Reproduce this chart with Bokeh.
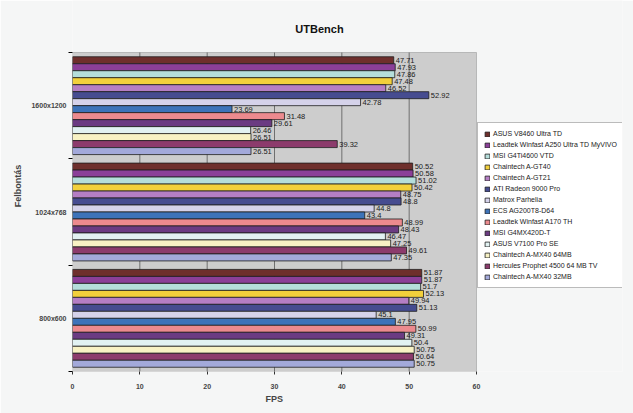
from bokeh.plotting import figure
from bokeh.models import Legend, LegendItem, FixedTicker, Range1d, BoxAnnotation, Title, Label
from bokeh.core.properties import value
from bokeh.embed import file_html
from bokeh.resources import INLINE

resolutions = ["1600x1200", "1024x768", "800x600"]
cards = [
    "ASUS V8460 Ultra TD",
    "Leadtek Winfast A250 Ultra TD MyVIVO",
    "MSI G4Ti4600 VTD",
    "Chaintech A-GT40",
    "Chaintech A-GT21",
    "ATI Radeon 9000 Pro",
    "Matrox Parhelia",
    "ECS AG200T8-D64",
    "Leadtek Winfast A170 TH",
    "MSI G4MX420D-T",
    "ASUS V7100 Pro SE",
    "Chaintech A-MX40 64MB",
    "Hercules Prophet 4500 64 MB TV",
    "Chaintech A-MX40 32MB",
]
colors = [
    "#6e2f2c", "#8b3f98", "#b5dedb", "#f2d03c", "#b57ec4", "#464c90", "#d5d2ea",
    "#3d73b9", "#ec8a8e", "#6b3b82", "#e2f2f2", "#f8f2c4", "#8c3b6c", "#a3a9da",
]
fps_1600x1200 = [47.71, 47.93, 47.86, 47.48, 46.52, 52.92, 42.78,
                 23.69, 31.48, 29.61, 26.46, 26.51, 39.32, 26.51]
fps_1024x768 = [50.52, 50.58, 51.02, 50.42, 48.75, 48.8, 44.8,
                43.4, 48.99, 48.43, 46.47, 47.25, 49.61, 47.35]
fps_800x600 = [51.87, 51.87, 51.7, 52.13, 49.94, 51.13, 45.1,
               47.95, 50.99, 49.31, 50.4, 50.75, 50.64, 50.75]
fps_by_res = [fps_1600x1200, fps_1024x768, fps_800x600]
x_ticks = [0, 10, 20, 30, 40, 50, 60]
title_text = "UTBench"

FONT = "Liberation Sans"
n_cat = len(resolutions)
n_ser = len(cards)
group_w = 0.92
bar_h = group_w / n_ser
centers = [n_cat - i - 0.5 for i in range(n_cat)]

# layout in pixels
W, H = 633, 413
LEFT, BOTTOM, RIGHT = 72, 42, 11
AREA_W, AREA_TOP = 404, 52          # chart area width, chart area top (from figure top)
frame_w = W - LEFT - RIGHT
frame_h = H - BOTTOM
area_h = frame_h - AREA_TOP
x_max = x_ticks[-1]
x_end = x_max * frame_w / AREA_W
y_end = n_cat * frame_h / area_h
px_x = x_max / AREA_W
px_y = n_cat / area_h

p = figure(width=W, height=H, output_backend="svg", toolbar_location=None,
           x_range=Range1d(0, x_end), y_range=Range1d(0, y_end),
           min_border_left=LEFT, min_border_top=0, min_border_bottom=BOTTOM,
           min_border_right=RIGHT)
p.background_fill_color = "#f5f6f6"
p.border_fill_color = "#f5f6f6"
p.outline_line_color = None

area = BoxAnnotation(left=0, right=x_max, bottom=0, top=n_cat, level="image",
                     fill_color="#cdcdcd", fill_alpha=1.0,
                     line_color="#555555", line_width=1)
p.add_layout(area)

# vertical grid lines limited to the chart area
grid_x = x_ticks[1:-1]
p.segment(x0=grid_x, x1=grid_x, y0=[0] * len(grid_x), y1=[n_cat] * len(grid_x),
          line_color="#6f6f6f", line_width=1)

title = Label(x=(319 - LEFT) * px_x, y=n_cat + (AREA_TOP - 28) * px_y, text=title_text,
              text_font=FONT, text_font_size="11px", text_font_style="bold",
              text_align="center", text_baseline="middle", text_color="#111111")
p.add_layout(title)

items = []
for j, name in enumerate(cards):
    vals = [fps_by_res[i][j] for i in range(n_cat)]
    ys = [c + group_w / 2 - (j + 0.5) * bar_h for c in centers]
    r = p.hbar(y=ys, right=vals, left=0, height=bar_h, fill_color=colors[j],
               line_color="#1e1e1e", line_width=0.8)
    p.text(x=vals, y=ys, text=[f"{v:g}" for v in vals], x_offset=2,
           text_font=value(FONT), text_font_size="7.5px", text_baseline="middle",
           text_color="#1a1a1a")
    items.append(LegendItem(label=name, renderers=[r]))

legend = Legend(items=items, location=(AREA_W + 1, frame_h - 288), margin=0, padding=6,
                label_text_font=FONT, label_text_font_size="7px",
                label_text_color="#1a1a1a", label_height=9, label_standoff=3,
                glyph_width=6, glyph_height=6, spacing=2,
                border_line_color="#777777", background_fill_color="#ffffff",
                background_fill_alpha=1.0)
p.add_layout(legend, "center")

p.ygrid.grid_line_color = None
p.xgrid.grid_line_color = None

xa = p.xaxis[0]
xa.ticker = FixedTicker(ticks=x_ticks)
xa.axis_line_color = None
xa.major_label_text_font = FONT
xa.major_label_text_font_size = "7px"
xa.major_label_text_font_style = "bold"
xa.major_label_standoff = 9
xa.major_tick_out = 3
xa.major_tick_in = 0
xa.minor_tick_out = 0
xa.major_tick_line_color = "#333333"

fps_title = Title(text="FPS", align="left", offset=AREA_W / 2 - 9, standoff=1,
                  text_font=FONT, text_font_size="9px", text_font_style="bold")
p.add_layout(fps_title, "below")

ya = p.yaxis[0]
ya.ticker = FixedTicker(ticks=centers, minor_ticks=list(range(n_cat + 1)))
ya.major_label_overrides = {c: r for c, r in zip(centers, resolutions)}
ya.axis_label = "Felbontás"
ya.axis_label_text_font = FONT
ya.axis_label_text_font_size = "9px"
ya.axis_label_text_font_style = "bold"
ya.axis_label_standoff = 5
ya.major_label_text_font = FONT
ya.major_label_text_font_size = "7px"
ya.major_label_text_font_style = "bold"
ya.major_label_standoff = 2
ya.major_tick_out = 0
ya.major_tick_in = 0
ya.minor_tick_out = 4
ya.minor_tick_in = 0
ya.axis_line_color = None

open("out.html", "w").write(file_html(p, INLINE))
